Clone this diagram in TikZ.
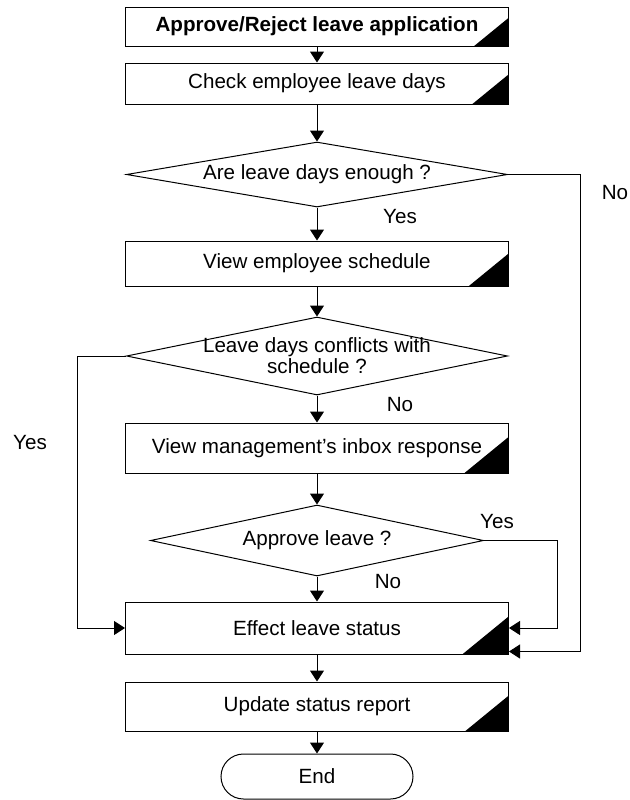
\documentclass[tikz,border=0pt]{standalone}
\usepackage{fontspec}
\setmainfont{Liberation Sans}
\usetikzlibrary{shapes.geometric,arrows.meta,calc}
\begin{document}
\begin{tikzpicture}[x=0.5pt, y=-0.5pt, line width=0.5pt,
  every node/.style={font=\fontsize{10.3}{10.6}\selectfont},
  task/.style={draw, rectangle, minimum width=191.5pt, inner sep=0pt, align=center,
    path picture={\fill (path picture bounding box.south east)
      -- ($(path picture bounding box.south east)!0.72!(path picture bounding box.north east)$)
      -- ($(path picture bounding box.south east)!0.88!90:(path picture bounding box.north east)$) -- cycle;}},
  check/.style={draw, diamond, inner sep=0pt, minimum width=190.5pt},
  arr/.style={-{Triangle[width=7pt,length=5.5pt]}}]
  \useasboundingbox (0,0) rectangle (630,800);
  \node[task, minimum height=19.5pt] (apply) at (317,26.5) {\textbf{Approve/Reject leave application}};
  \node[task, minimum height=20.5pt] (days) at (317,83.5) {Check employee leave days};
  \node[check, minimum height=32.5pt, label=center:{Are leave days enough ?}] (enough) at (317,174.5) {};
  \node[task, minimum height=22.5pt] (sched) at (317,263.5) {View employee schedule};
  \node[check, minimum height=39pt, label={[align=center]center:Leave days conflicts with\\schedule ?}] (conflict) at (317,356) {};
  \node[task, minimum height=25pt] (inbox) at (317,448) {View management’s inbox response};
  \node[check, minimum width=166.5pt, minimum height=35.5pt, label=center:{Approve leave ?}] (approve) at (317,540.5) {};
  \node[task, minimum height=26pt] (effect) at (317,628) {Effect leave status};
  \node[task, minimum height=24.5pt] (report) at (317,706.5) {Update status report};
  \node[draw, rounded corners=11.25pt, minimum width=96pt, minimum height=22.5pt] (stop) at (317,776.5) {End};
  \node (yes1) at (400,217) {Yes};
  \node (no1) at (615,193) {No};
  \node (no2) at (400,405) {No};
  \node (yes2) at (30,443) {Yes};
  \node (yes3) at (497,522) {Yes};
  \node (no3) at (388,582) {No};
  \draw[arr] (apply) -- (days);
  \draw[arr] (days) -- (enough);
  \draw[arr] (enough) -- (sched);
  \draw[arr] (sched) -- (conflict);
  \draw[arr] (conflict) -- (inbox);
  \draw[arr] (inbox) -- (approve);
  \draw[arr] (approve) -- (effect);
  \draw[arr] (effect) -- (report);
  \draw[arr] (report) -- (stop);
  \draw[arr] (enough.east) -- ++(72,0) |- ([yshift=1.5pt]effect.south east);
  \draw[arr] (approve.east) -- ++(73,0) |- (effect.east);
  \draw[arr] (conflict.west) -- ++(-49,0) |- (effect.west);
\end{tikzpicture}
\end{document}
